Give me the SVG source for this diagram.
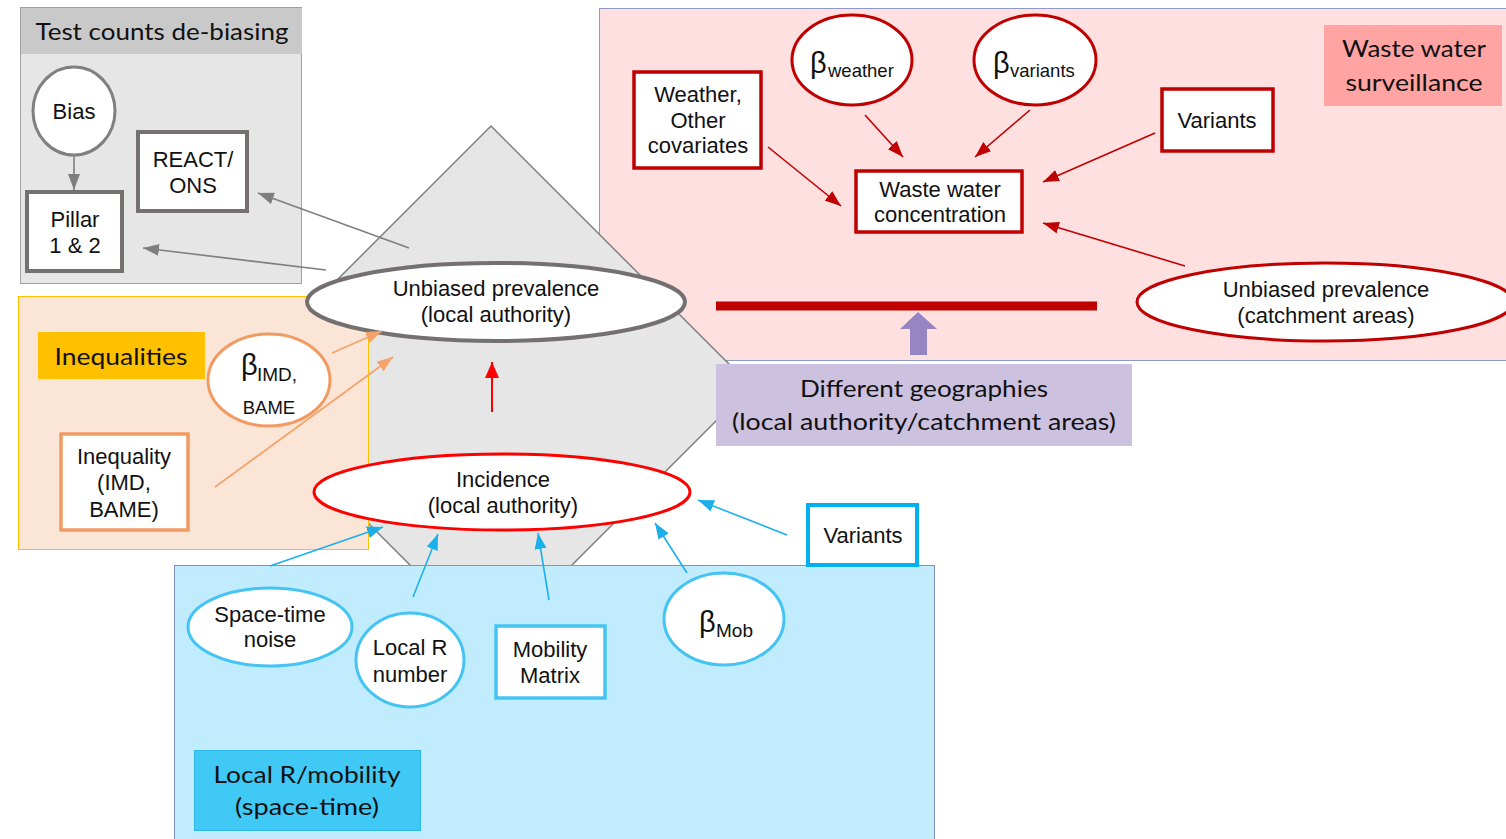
<svg xmlns="http://www.w3.org/2000/svg" width="1506" height="839" viewBox="0 0 1506 839">
<defs>
<style>
.t{font-family:"Liberation Sans",Arial,sans-serif;font-size:22px;fill:#111;text-anchor:middle}
.ts{font-family:"Liberation Sans",Arial,sans-serif;fill:#111}
.lab{font-family:Lato,"Liberation Sans",sans-serif;font-size:23px;fill:#111;text-anchor:middle}
.nd{fill:#fff}
.gray{stroke:#767171;stroke-width:4}
.dred{stroke:#c00000;stroke-width:3.5}
.org{stroke:#f19b63;stroke-width:3.5}
.blu{stroke:#45c3f2;stroke-width:3.5}
.cg{stroke:#7f7f7f;stroke-width:1.6;fill:none}
.cr{stroke:#c00000;stroke-width:1.6;fill:none}
.co{stroke:#f4a46a;stroke-width:1.8;fill:none}
.cb{stroke:#1cb0ea;stroke-width:1.6;fill:none}
</style>
<marker id="mg" viewBox="0 0 16 12" refX="16" refY="6" markerWidth="16" markerHeight="12" markerUnits="userSpaceOnUse" orient="auto"><path d="M0,0 L16,6 L0,12 z" fill="#7f7f7f"/></marker>
<marker id="mr" viewBox="0 0 16 12" refX="16" refY="6" markerWidth="16" markerHeight="12" markerUnits="userSpaceOnUse" orient="auto"><path d="M0,0 L16,6 L0,12 z" fill="#c00000"/></marker>
<marker id="mrr" viewBox="0 0 16 14" refX="16" refY="7" markerWidth="16" markerHeight="14" markerUnits="userSpaceOnUse" orient="auto"><path d="M0,0 L16,7 L0,14 z" fill="#ff0000"/></marker>
<marker id="mo" viewBox="0 0 16 12" refX="16" refY="6" markerWidth="16" markerHeight="12" markerUnits="userSpaceOnUse" orient="auto"><path d="M0,0 L16,6 L0,12 z" fill="#f4a46a"/></marker>
<marker id="mb" viewBox="0 0 16 12" refX="16" refY="6" markerWidth="16" markerHeight="12" markerUnits="userSpaceOnUse" orient="auto"><path d="M0,0 L16,6 L0,12 z" fill="#1cb0ea"/></marker>
</defs>

<g id="backgrounds">
<rect x="599.5" y="8.5" width="920" height="352" fill="#fee0e1" stroke="#8b9bc4" stroke-width="1"/>
<rect x="20.5" y="7.5" width="281" height="276" fill="#e7e6e7" stroke="#a0a0a0" stroke-width="1"/>
<rect x="21" y="8" width="281" height="46" fill="#c9c9c9"/>
<polygon points="491,126 751,386 491,646 231,386" fill="#e6e6e6" stroke="#808080" stroke-width="1.5"/>
<rect x="18.5" y="296.5" width="350" height="253" fill="#fbe5d6" stroke="#ffc000" stroke-width="1"/>
<rect x="38" y="332" width="167" height="47" fill="#ffc000"/>
<rect x="174.5" y="565.5" width="760" height="280" fill="#c0ecfd" stroke="#7f93bd" stroke-width="1"/>
<rect x="194.5" y="750.5" width="226" height="80" fill="#41c9f6" stroke="#2cb6ea" stroke-width="1"/>
<rect x="716" y="364" width="416" height="82" fill="#ccc1df"/>
<rect x="1324" y="25" width="178" height="81" fill="#ffa3a3"/>
<rect x="716" y="301.5" width="381" height="9" fill="#c00000"/>
<polygon points="918,312 937,329 927,329 927,355 910,355 910,329 900,329" fill="#9585c3"/>
<text class="lab" x="162" y="40" textLength="253" lengthAdjust="spacingAndGlyphs">Test counts de-biasing</text>
<text class="lab" x="121" y="365" textLength="133" lengthAdjust="spacingAndGlyphs">Inequalities</text>
<text class="lab" x="1414" y="57" textLength="144" lengthAdjust="spacingAndGlyphs">Waste water</text>
<text class="lab" x="1414" y="91" textLength="137" lengthAdjust="spacingAndGlyphs">surveillance</text>
<text class="lab" x="924" y="397" textLength="248" lengthAdjust="spacingAndGlyphs">Different geographies</text>
<text class="lab" x="924" y="430" textLength="384" lengthAdjust="spacingAndGlyphs">(local authority/catchment areas)</text>
<text class="lab" x="307" y="783" textLength="187" lengthAdjust="spacingAndGlyphs">Local R/mobility</text>
<text class="lab" x="307" y="815" textLength="144" lengthAdjust="spacingAndGlyphs">(space-time)</text>
</g>

<g id="n-bias"><ellipse class="nd" cx="74" cy="111" rx="41" ry="44" stroke="#808080" stroke-width="3"/><text class="t" x="74" y="119">Bias</text></g>
<g id="n-pillar"><rect class="nd gray" x="27" y="192" width="95" height="79"/><text class="t" x="75" y="227">Pillar</text><text class="t" x="75" y="253">1 &amp; 2</text></g>
<g id="n-react"><rect class="nd gray" x="138" y="132" width="109" height="79"/><text class="t" x="193" y="167">REACT/</text><text class="t" x="193" y="193">ONS</text></g>
<g id="n-prev-la"><ellipse class="nd" cx="496" cy="302" rx="189" ry="39" stroke="#747070" stroke-width="4"/><text class="t" x="496" y="296">Unbiased prevalence</text><text class="t" x="496" y="322">(local authority)</text></g>
<g id="n-incidence"><ellipse class="nd" cx="502" cy="492" rx="188" ry="38" stroke="#ff0000" stroke-width="3"/><text class="t" x="503" y="487">Incidence</text><text class="t" x="503" y="513">(local authority)</text></g>
<g id="n-weather"><rect class="nd dred" x="634" y="72" width="127" height="96"/><text class="t" x="698" y="102">Weather,</text><text class="t" x="698" y="128">Other</text><text class="t" x="698" y="153">covariates</text></g>
<g id="n-bweather"><ellipse class="nd" cx="852" cy="60" rx="60" ry="45" stroke="#c00000" stroke-width="3"/><text class="ts" x="810" y="73" font-size="29">β</text><text class="ts" x="828" y="77" font-size="18.5">weather</text></g>
<g id="n-bvariants"><ellipse class="nd" cx="1035" cy="60" rx="61" ry="45" stroke="#c00000" stroke-width="3"/><text class="ts" x="993" y="73" font-size="29">β</text><text class="ts" x="1010" y="77" font-size="18.5">variants</text></g>
<g id="n-conc"><rect class="nd dred" x="856" y="171" width="166" height="61"/><text class="t" x="940" y="197">Waste water</text><text class="t" x="940" y="222">concentration</text></g>
<g id="n-variants-ww"><rect class="nd dred" x="1162" y="89" width="111" height="62"/><text class="t" x="1217" y="128">Variants</text></g>
<g id="n-prev-ca"><ellipse class="nd" cx="1325" cy="302" rx="188" ry="39" stroke="#c00000" stroke-width="3"/><text class="t" x="1326" y="297">Unbiased prevalence</text><text class="t" x="1326" y="323">(catchment areas)</text></g>
<g id="n-bimd"><ellipse class="nd" cx="269" cy="380" rx="61" ry="46" stroke="#f19b63" stroke-width="3"/><text class="ts" x="241" y="375" font-size="29">β</text><text class="ts" x="257" y="381" font-size="19">IMD,</text><text class="t" x="269" y="414" font-size="18.5" style="font-size:18.5px">BAME</text></g>
<g id="n-inequality"><rect class="nd org" x="61" y="434" width="127" height="96"/><text class="t" x="124" y="464">Inequality</text><text class="t" x="124" y="490">(IMD,</text><text class="t" x="124" y="517">BAME)</text></g>
<g id="n-noise"><ellipse class="nd" cx="270" cy="627" rx="82" ry="39" stroke="#45c3f2" stroke-width="3"/><text class="t" x="270" y="622">Space-time</text><text class="t" x="270" y="647">noise</text></g>
<g id="n-localr"><ellipse class="nd" cx="410" cy="660" rx="54" ry="47" stroke="#45c3f2" stroke-width="3"/><text class="t" x="410" y="655">Local R</text><text class="t" x="410" y="682">number</text></g>
<g id="n-mobility"><rect class="nd blu" x="496" y="626" width="109" height="72"/><text class="t" x="550" y="657">Mobility</text><text class="t" x="550" y="683">Matrix</text></g>
<g id="n-bmob"><ellipse class="nd" cx="724" cy="619" rx="60" ry="46" stroke="#45c3f2" stroke-width="3"/><text class="ts" x="699" y="632" font-size="29">β</text><text class="ts" x="716" y="637" font-size="19">Mob</text></g>
<g id="n-variants-inc"><rect class="nd" x="808" y="505" width="109" height="60" stroke="#00b0f0" stroke-width="4"/><text class="t" x="863" y="543">Variants</text></g>

<g id="connectors">
<line class="cg" x1="74" y1="155" x2="74" y2="190" marker-end="url(#mg)"/>
<line class="cg" x1="409" y1="248" x2="258" y2="193" marker-end="url(#mg)"/>
<line class="cg" x1="326" y1="270" x2="143" y2="248" marker-end="url(#mg)"/>
<line x1="492" y1="412" x2="492" y2="362" stroke="#ff0000" stroke-width="2" marker-end="url(#mrr)"/>
<line class="cr" x1="768" y1="147" x2="841" y2="206" marker-end="url(#mr)"/>
<line class="cr" x1="865" y1="115" x2="903" y2="157" marker-end="url(#mr)"/>
<line class="cr" x1="1030" y1="110" x2="975" y2="157" marker-end="url(#mr)"/>
<line class="cr" x1="1155" y1="133" x2="1043" y2="182" marker-end="url(#mr)"/>
<line class="cr" x1="1185" y1="266" x2="1043" y2="223" marker-end="url(#mr)"/>
<line class="co" x1="332" y1="353" x2="382" y2="331" marker-end="url(#mo)"/>
<line class="co" x1="215" y1="487" x2="393" y2="357" marker-end="url(#mo)"/>
<line class="cb" x1="270" y1="566" x2="383" y2="527" marker-end="url(#mb)"/>
<line class="cb" x1="413" y1="597" x2="438" y2="534" marker-end="url(#mb)"/>
<line class="cb" x1="549" y1="600" x2="538" y2="533" marker-end="url(#mb)"/>
<line class="cb" x1="687" y1="573" x2="655" y2="523" marker-end="url(#mb)"/>
<line class="cb" x1="787" y1="535" x2="698" y2="500" marker-end="url(#mb)"/>
</g>
</svg>
